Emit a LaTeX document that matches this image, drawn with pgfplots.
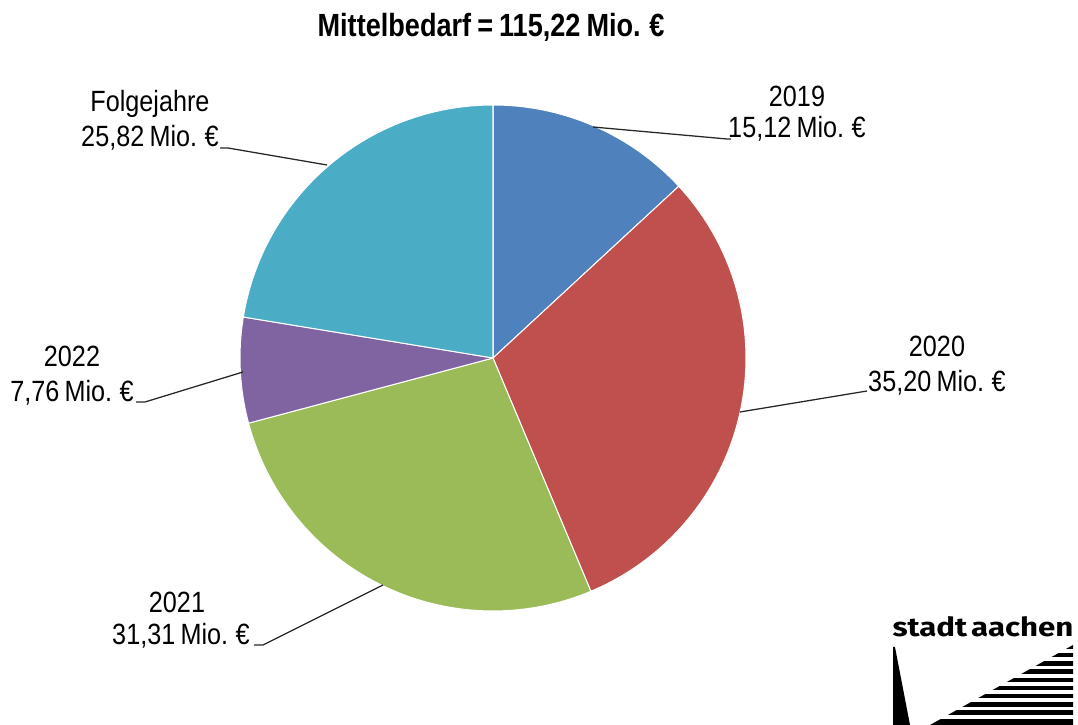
\documentclass[border=0pt]{standalone}
\usepackage{pgfplots}
\usepackage{pgfplotstable}
\pgfplotsset{compat=1.18}
\usepackage{fontspec}
\setmainfont{Liberation Sans}
\newfontfamily\lblfont[FakeStretch=0.86, WordSpace=0.75]{Liberation Sans}
\newfontfamily\ttlfont[FakeStretch=0.845, WordSpace=0.8]{Liberation Sans}
\newfontfamily\logofont{Fira Sans}
\definecolor{cA}{HTML}{4F81BD}
\definecolor{cB}{HTML}{C0504D}
\definecolor{cC}{HTML}{9BBB59}
\definecolor{cD}{HTML}{8064A2}
\definecolor{cE}{HTML}{4BACC6}

\pgfplotstableread{
label value
2019 15.12
2020 35.20
2021 31.31
2022 7.76
Folgejahre 25.82
}\piedata

\pgfplotstablegetelem{0}{value}\of\piedata \let\vA\pgfplotsretval
\pgfplotstablegetelem{1}{value}\of\piedata \let\vB\pgfplotsretval
\pgfplotstablegetelem{2}{value}\of\piedata \let\vC\pgfplotsretval
\pgfplotstablegetelem{3}{value}\of\piedata \let\vD\pgfplotsretval
\pgfplotstablegetelem{4}{value}\of\piedata \let\vE\pgfplotsretval
\pgfmathsetmacro\tot{\vA+\vB+\vC+\vD+\vE}
\pgfmathsetmacro\aA{90}
\pgfmathsetmacro\aB{\aA-360*\vA/\tot}
\pgfmathsetmacro\aC{\aB-360*\vB/\tot}
\pgfmathsetmacro\aD{\aC-360*\vC/\tot}
\pgfmathsetmacro\aE{\aD-360*\vD/\tot}
\pgfmathsetmacro\aF{\aE-360*\vE/\tot}
\def\R{100.16pt}

\newcommand\lbl{\lblfont\fontsize{11.6}{14}\selectfont}

\begin{document}
\begin{tikzpicture}
\begin{axis}[scale only axis, width=426.79pt, height=287.03pt,
  xmin=0, xmax=1078, ymin=0, ymax=725, hide axis, clip=false]
\pgfplotsextra{
  \foreach \s/\e/\c in {\aA/\aB/cA, \aB/\aC/cB, \aC/\aD/cC, \aD/\aE/cD, \aE/\aF/cE}{
    \filldraw[fill=\c, draw=white, line width=0.4pt, line join=round]
      (axis cs:493,367) -- ++(\s:\R) arc[start angle=\s, end angle=\e, radius=\R] -- cycle;
  }
  % leader lines
  \draw[black!85, line width=0.5pt] (axis cs:593,598) -- (axis cs:727,586) -- (axis cs:731,586);
  \draw[black!85, line width=0.5pt] (axis cs:740,313) -- (axis cs:867,334);
  \draw[black!85, line width=0.5pt] (axis cs:383,140) -- (axis cs:263,80) -- (axis cs:254,80);
  \draw[black!85, line width=0.5pt] (axis cs:243,353) -- (axis cs:145,323) -- (axis cs:136,323);
  \draw[black!85, line width=0.5pt] (axis cs:327,560) -- (axis cs:228,577) -- (axis cs:220,577);
  % labels
  \node[anchor=base, inner sep=0] at (axis cs:797,618) {\lbl 2019};
  \node[anchor=base, inner sep=0] at (axis cs:797,587) {\lbl 15,12 Mio. €};
  \node[anchor=base, inner sep=0] at (axis cs:937,368) {\lbl 2020};
  \node[anchor=base, inner sep=0] at (axis cs:937,333) {\lbl 35,20 Mio. €};
  \node[anchor=base, inner sep=0] at (axis cs:177,112) {\lbl 2021};
  \node[anchor=base, inner sep=0] at (axis cs:181,80) {\lbl 31,31 Mio. €};
  \node[anchor=base, inner sep=0] at (axis cs:72,358) {\lbl 2022};
  \node[anchor=base, inner sep=0] at (axis cs:72,323) {\lbl 7,76 Mio. €};
  \node[anchor=base, inner sep=0] at (axis cs:150,613) {\lbl Folgejahre};
  \node[anchor=base, inner sep=0] at (axis cs:150,578) {\lbl 25,82 Mio. €};
  % title
  \node[anchor=base, inner sep=0] at (axis cs:491,688) {\ttlfont\fontsize{12.7}{15}\selectfont\bfseries Mittelbedarf = 115,22 Mio. €};
  % logo
  \node[anchor=base west, inner sep=0] at (axis cs:892,88) {\resizebox{71.66pt}{7.9pt}{\logofont\bfseries stadt\hspace{0.12em}aachen}};
  \fill[black] (axis cs:893,78) -- (axis cs:895,78) -- (axis cs:910,0) -- (axis cs:893,0) -- cycle;
  \fill[black] (axis cs:1073,80) -- (axis cs:1073,0) -- (axis cs:930,0) -- cycle;
  \foreach \k in {0,...,8}{
    \pgfmathsetmacro\yy{725-651.1-8.2*\k}
    \fill[white] (axis cs:918,\yy+1.9) rectangle (axis cs:1075,\yy-1.9);
  }
}
\end{axis}
\pgfresetboundingbox
\useasboundingbox (current axis.south west) rectangle (current axis.north east);
\end{tikzpicture}
\end{document}
